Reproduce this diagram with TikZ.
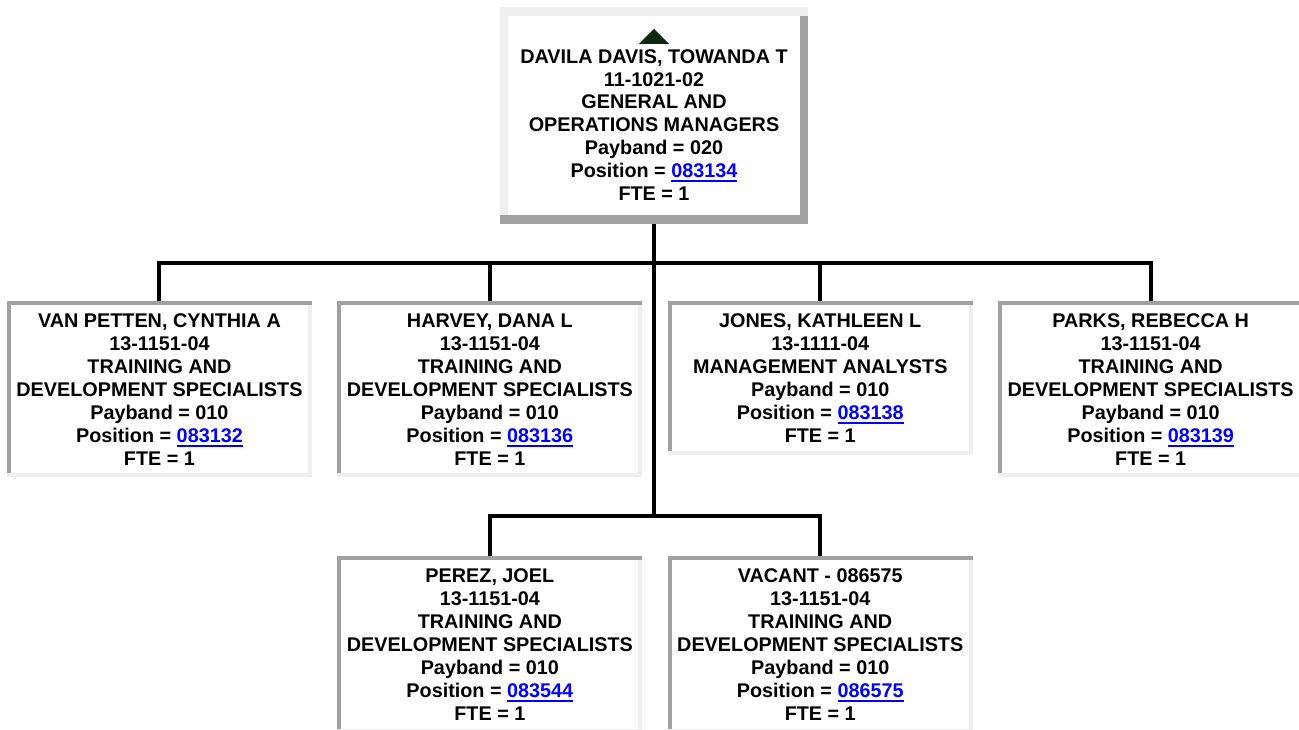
\documentclass[tikz,border=0pt]{standalone}
\usepackage{fontspec}
\setmainfont{Liberation Sans}
\usetikzlibrary{positioning}

\definecolor{edgedark}{RGB}{160,160,160}
\definecolor{edgelight}{RGB}{238,238,238}
\definecolor{linkblue}{RGB}{0,0,255}
\definecolor{capgreen}{RGB}{12,40,12}

\newsavebox\linkbox
\newcommand\poslink[1]{\sbox\linkbox{\color{linkblue}#1}{\color{linkblue}\rlap{\rule[-4.5pt]{\wd\linkbox}{2pt}}\usebox\linkbox}}

\begin{document}
\begin{tikzpicture}[
  x=1pt, y=-1pt,
  posbox/.style={fill=white, inner sep=0pt, minimum width=296.5pt, minimum height=168pt,
    align=center, font=\bfseries\fontsize{19.8}{23}\selectfont},
  bossbox/.style={posbox, minimum width=292pt, minimum height=199pt},
  tie/.style={line width=4pt}
]
  \useasboundingbox (0,0) rectangle (1299,730);

  \node[bossbox] (ceo) at (654,115.5) {\rule{0pt}{33pt}DAVILA DAVIS, TOWANDA T\\11-1021-02\\GENERAL AND\\OPERATIONS MANAGERS\\Payband = 020\\Position = \poslink{083134}\\FTE = 1};

  \node[posbox, anchor=north west] (vp) at (11,305) {VAN PETTEN, CYNTHIA A\\13-1151-04\\TRAINING AND\\DEVELOPMENT SPECIALISTS\\Payband = 010\\Position = \poslink{083132}\\FTE = 1};
  \node[posbox, right=33.5pt of vp] (hv) {HARVEY, DANA L\\13-1151-04\\TRAINING AND\\DEVELOPMENT SPECIALISTS\\Payband = 010\\Position = \poslink{083136}\\FTE = 1};
  \node[posbox, minimum height=146pt, right=33.5pt of hv.north east, anchor=north west] (jn) {JONES, KATHLEEN L\\13-1111-04\\MANAGEMENT ANALYSTS\\Payband = 010\\Position = \poslink{083138}\\FTE = 1};
  \node[posbox, right=33.5pt of jn.north east, anchor=north west] (pk) {PARKS, REBECCA H\\13-1151-04\\TRAINING AND\\DEVELOPMENT SPECIALISTS\\Payband = 010\\Position = \poslink{083139}\\FTE = 1};

  \node[posbox, below=87pt of hv] (pz) {PEREZ, JOEL\\13-1151-04\\TRAINING AND\\DEVELOPMENT SPECIALISTS\\Payband = 010\\Position = \poslink{083544}\\FTE = 1};
  \node[posbox, right=33.5pt of pz] (vc) {VACANT - 086575\\13-1151-04\\TRAINING AND\\DEVELOPMENT SPECIALISTS\\Payband = 010\\Position = \poslink{086575}\\FTE = 1};

  % collapse marker
  \fill[capgreen] ([shift={(0,13)}]ceo.north) -- ([shift={(15,28)}]ceo.north) -- ([shift={(-15,28)}]ceo.north) -- cycle;

  % reporting lines
  \path (ceo.south) ++(0,48) coordinate (bus) ++(0,253) coordinate (lowbus);
  \draw[tie] (ceo.south) -- (lowbus);
  \foreach \n in {vp,hv,jn,pk}
    \draw[tie] (bus) -| (\n.north);
  \foreach \n in {pz,vc}
    \draw[tie] (lowbus) -| (\n.north);

  % frames
  \fill[edgelight] ([shift={(-8,-9)}]ceo.north west) rectangle ([xshift=8pt]ceo.north east);
  \fill[edgelight] ([xshift=-8pt]ceo.north west) rectangle (ceo.south west);
  \fill[edgedark] (ceo.north east) rectangle ([xshift=8pt]ceo.south east);
  \fill[edgedark] ([xshift=-8pt]ceo.south west) rectangle ([shift={(8,9)}]ceo.south east);
  \foreach \n in {vp,hv,jn,pk,pz,vc}{
    \fill[edgedark] ([shift={(-4,-4)}]\n.north west) rectangle ([xshift=4pt]\n.north east);
    \fill[edgedark] ([xshift=-4pt]\n.north west) rectangle (\n.south west);
    \fill[edgelight] (\n.north east) rectangle ([xshift=4pt]\n.south east);
    \fill[edgelight] ([xshift=-4pt]\n.south west) rectangle ([shift={(4,4)}]\n.south east);
  }
\end{tikzpicture}
\end{document}
